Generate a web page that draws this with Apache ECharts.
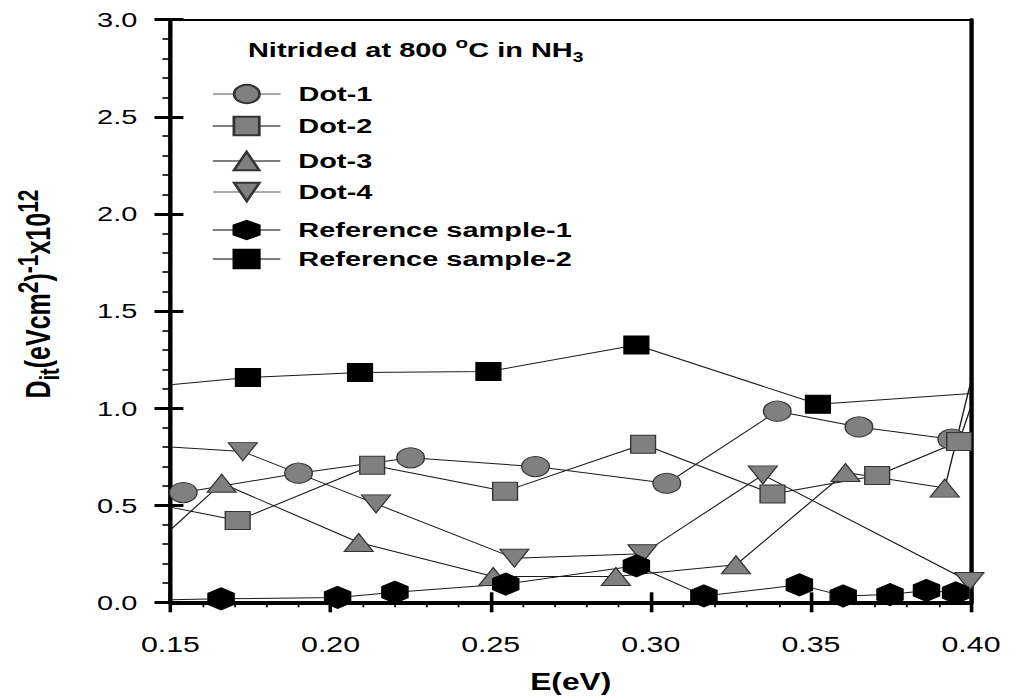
<!DOCTYPE html>
<html>
<head>
<meta charset="utf-8">
<script src="https://cdn.jsdelivr.net/npm/echarts@6/dist/echarts.min.js"></script>
<style>
  html, body { margin: 0; padding: 0; background: #fff; width: 1015px; height: 699px; overflow: hidden; }
  /* The figure is laid out on a narrower canvas and widened horizontally,
     which gives the wide lettering and the oval circle markers. */
  #chart { width: 736px; height: 699px; transform-origin: 0 0; transform: scaleX(1.37908); }
</style>
</head>
<body>
<div id="chart"></div>
<script>
// ---- axis ranges and tick spacing ----
const E_MIN = 0.15, E_MAX = 0.40, E_STEP = 0.05;
const DIT_MIN = 0, DIT_MAX = 3, DIT_STEP = 0.5;

// ---- series names ----
const seriesNames = ['Dot-1', 'Dot-2', 'Dot-3', 'Dot-4', 'Reference sample-1', 'Reference sample-2'];

// ---- interface trap density (x10^12 eV^-1 cm^-2) versus energy E (eV) ----
// points lying exactly on E_MIN / E_MAX are where a trace runs into the frame
const dot1E   = [0.154, 0.190, 0.225, 0.264, 0.305, 0.3395, 0.365, 0.394];
const dot1Dit = [0.565, 0.665, 0.744, 0.699, 0.613, 0.984, 0.903, 0.840];

const dot2E   = [0.15, 0.171, 0.213, 0.2545, 0.2976, 0.338, 0.3707, 0.3963, 0.40];
const dot2Dit = [0.49, 0.421, 0.706, 0.572, 0.814, 0.558, 0.653, 0.828, 1.01];

const dot3E   = [0.15, 0.166, 0.2088, 0.2508, 0.2891, 0.3266, 0.3608, 0.3918, 0.40];
const dot3Dit = [0.373, 0.613, 0.308, 0.133, 0.133, 0.193, 0.668, 0.588, 1.14];

const dot4E   = [0.15, 0.1726, 0.2142, 0.2574, 0.2974, 0.335, 0.3995];
const dot4Dit = [0.80, 0.776, 0.507, 0.227, 0.250, 0.656, 0.107];

const ref1E   = [0.15, 0.1658, 0.2022, 0.2201, 0.2547, 0.2955, 0.3166, 0.3464, 0.3601, 0.3747, 0.3861, 0.3952];
const ref1Dit = [0.013, 0.018, 0.025, 0.052, 0.094, 0.188, 0.033, 0.090, 0.033, 0.040, 0.061, 0.049];

const ref2E   = [0.15, 0.1742, 0.2092, 0.2493, 0.2955, 0.3522, 0.40];
const ref2Dit = [1.12, 1.157, 1.183, 1.188, 1.325, 1.020, 1.075];

// ---- styling ----
const FONT = '"Liberation Sans", Arial, Helvetica, sans-serif';
const GREY = '#808080';
const HEXAGON = 'path://M0,-1L0.866,-0.5L0.866,0.5L0,1L-0.866,0.5L-0.866,-0.5Z';
const TRI_DOWN = 'path://M0,0L2,0L1,1.732Z';
const legendRowY = [95, 127, 162, 193, 231, 260];
const GRID = { left: 123.6, right: 31.9, top: 19.7, bottom: 96.7 };

function toData(es, ds) {
  return es.map((e, i) => (e === E_MIN || e === E_MAX)
    ? { value: [e, ds[i]], symbol: 'none' }
    : [e, ds[i]]);
}

function lineSeries(name, es, ds, symbol, size, fill, border) {
  return {
    type: 'line', name: name,
    xAxisIndex: 0, yAxisIndex: 0,
    data: toData(es, ds),
    symbol: symbol, symbolSize: size, showAllSymbol: true,
    lineStyle: { color: '#1a1a1a', width: 1 },
    itemStyle: { color: fill, borderColor: border, borderWidth: 1, opacity: 1 },
    emphasis: { disabled: true },
    clip: true, animation: false
  };
}

const series = [
  lineSeries(seriesNames[0], dot1E, dot1Dit, 'circle', 20, GREY, '#333'),
  lineSeries(seriesNames[1], dot2E, dot2Dit, 'rect', 18, GREY, '#333'),
  lineSeries(seriesNames[2], dot3E, dot3Dit, 'triangle', [21, 18], GREY, '#333'),
  lineSeries(seriesNames[3], dot4E, dot4Dit, TRI_DOWN, [21, 18], GREY, '#333'),
  lineSeries(seriesNames[4], ref1E, ref1Dit, HEXAGON, [19, 22], '#000', '#000'),
  lineSeries(seriesNames[5], ref2E, ref2Dit, 'rect', 18, '#000', '#000')
];

// one legend block per row so each row sits at its own height
const greyLegendLine = { 'Dot-1': true, 'Dot-4': true };
const legends = seriesNames.map((name, i) => ({
  data: [greyLegendLine[name]
    ? { name: name, lineStyle: { color: '#8c8c8c', width: 1.5 } }
    : { name: name, lineStyle: { color: '#000', width: 1.2 } }],
  left: 153.7, top: legendRowY[i] - 11.5,
  orient: 'vertical', padding: 0,
  itemWidth: 49, itemHeight: 23,
  selectedMode: false,
  textStyle: { fontFamily: FONT, fontWeight: 'bold', fontSize: 21, color: '#000', padding: [0, 0, 0, 8] }
}));

const valueAxisBase = { type: 'value', splitLine: { show: false }, axisLine: { onZero: false } };

const option = {
  animation: false,
  backgroundColor: '#fff',
  grid: [
    Object.assign({}, GRID),
    Object.assign({}, GRID)
  ],
  xAxis: [
    // main energy axis: labels, outward ticks
    Object.assign({}, valueAxisBase, {
      gridIndex: 0, position: 'bottom', min: E_MIN, max: E_MAX, interval: E_STEP,
      axisLine: { onZero: false, lineStyle: { color: '#000', width: 3.8 } },
      axisTick: { inside: false, length: 10, lineStyle: { color: '#000', width: 2.6 } },
      minorTick: { show: true, splitNumber: 5, length: 5, lineStyle: { color: '#000', width: 1.3 } },
      axisLabel: { fontFamily: FONT, fontSize: 22, color: '#000', margin: 31, formatter: v => v.toFixed(2) },
      name: 'E(eV)', nameLocation: 'middle', nameGap: 68,
      nameTextStyle: { fontFamily: FONT, fontSize: 23, fontWeight: 'bold', color: '#000' }
    }),
    // inward half of the major ticks
    Object.assign({}, valueAxisBase, {
      gridIndex: 1, position: 'bottom', min: E_MIN, max: E_MAX, interval: E_STEP,
      axisLine: { show: false, onZero: false },
      axisTick: { inside: true, length: 10, lineStyle: { color: '#000', width: 2.6 } },
      axisLabel: { show: false }
    }),
    // top frame
    Object.assign({}, valueAxisBase, {
      gridIndex: 0, position: 'top', min: E_MIN, max: E_MAX,
      axisLine: { onZero: false, lineStyle: { color: '#000', width: 2.2 } },
      axisTick: { show: false }, axisLabel: { show: false }
    })
  ],
  yAxis: [
    Object.assign({}, valueAxisBase, {
      gridIndex: 0, position: 'left', min: DIT_MIN, max: DIT_MAX, interval: DIT_STEP,
      axisLine: { onZero: false, lineStyle: { color: '#000', width: 3.2 } },
      axisTick: { inside: false, length: 11.6, lineStyle: { color: '#000', width: 3 } },
      minorTick: { show: true, splitNumber: 5, length: 5.8, lineStyle: { color: '#000', width: 1.6 } },
      axisLabel: { fontFamily: FONT, fontSize: 21, color: '#000', margin: 24, formatter: v => v.toFixed(1) }
    }),
    Object.assign({}, valueAxisBase, {
      gridIndex: 1, position: 'left', min: DIT_MIN, max: DIT_MAX, interval: DIT_STEP,
      axisLine: { show: false, onZero: false },
      axisTick: { inside: true, length: 9.4, lineStyle: { color: '#000', width: 3 } },
      axisLabel: { show: false }
    }),
    // right frame
    Object.assign({}, valueAxisBase, {
      gridIndex: 0, position: 'right', min: DIT_MIN, max: DIT_MAX,
      axisLine: { onZero: false, lineStyle: { color: '#000', width: 3.2 } },
      axisTick: { show: false }, axisLabel: { show: false }
    })
  ],
  legend: legends,
  graphic: [
    {
      type: 'text', left: 179.8, top: 36, silent: true,
      style: {
        text: '{b|Nitrided at 800 }{sup|o}{b|C in NH}{sub|3}',
        rich: {
          b:   { fontFamily: FONT, fontWeight: 'bold', fontSize: 21, color: '#000', lineHeight: 28 },
          sup: { fontFamily: FONT, fontWeight: 'bold', fontSize: 15, color: '#000', lineHeight: 15, verticalAlign: 'top' },
          sub: { fontFamily: FONT, fontWeight: 'bold', fontSize: 14, color: '#000', lineHeight: 14, verticalAlign: 'bottom' }
        }
      }
    },
    {
      type: 'text', x: 27.5, y: 294, rotation: Math.PI / 2, silent: true,
      style: {
        text: '{b|D}{sub|it}{b|(eVcm}{sup|2}{b|)}{sup|-1}{b|x10}{sup|12}',
        align: 'center', verticalAlign: 'middle',
        rich: {
          b:   { fontFamily: FONT, fontWeight: 'bold', fontSize: 25, color: '#000', lineHeight: 36 },
          sup: { fontFamily: FONT, fontWeight: 'bold', fontSize: 21, color: '#000', lineHeight: 21, verticalAlign: 'top' },
          sub: { fontFamily: FONT, fontWeight: 'bold', fontSize: 20, color: '#000', lineHeight: 20, verticalAlign: 'bottom' }
        }
      }
    }
  ],
  series: series
};

const chart = echarts.init(document.getElementById('chart'), null, { renderer: 'svg', width: 736, height: 699 });
chart.setOption(option);
</script>
</body>
</html>
